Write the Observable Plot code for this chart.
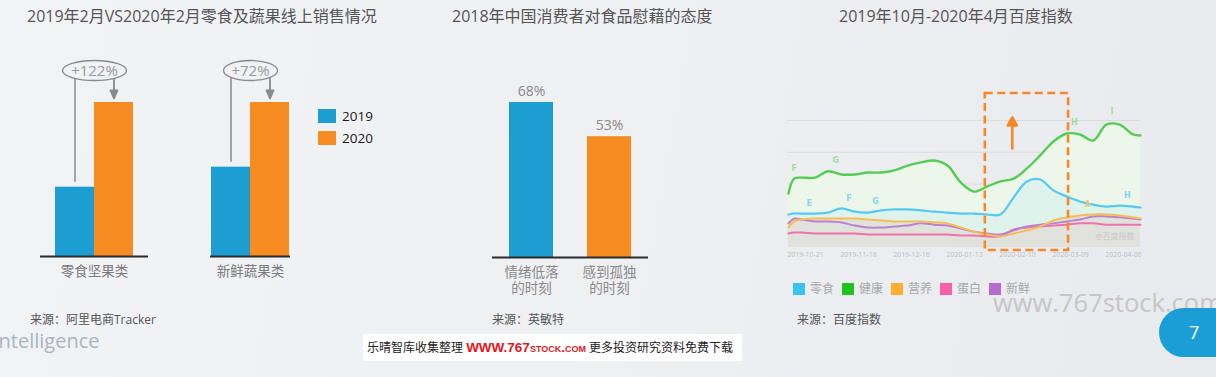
<!DOCTYPE html>
<html>
<head>
<meta charset="utf-8">
<script src="https://cdn.jsdelivr.net/npm/d3@7"></script>
<script src="https://cdn.jsdelivr.net/npm/@observablehq/plot@0.6"></script>
<style>
html, body { margin: 0; padding: 0; }
body {
  width: 1216px; height: 377px; overflow: hidden; position: relative;
  background: linear-gradient(100deg, #f2f3f5 0%, #eff0f2 50%, #e9eaee 100%);
  font-family: "Open Sans", "Noto Sans CJK SC", sans-serif;
}
.abs { position: absolute; white-space: nowrap; }
.title { font-size: 16px; color: #555; line-height: 22px; top: 5px; }
.src { font-size: 12px; color: #555; line-height: 16px; top: 312px; }
.layer { position: absolute; left: 0; top: 0; }
.layer svg { background: transparent !important; max-width: none !important; overflow: visible; }
.sw { display: inline-block; vertical-align: middle; }
</style>
</head>
<body>
<div class="abs title" style="left:27px;">2019年2月VS2020年2月零食及蔬果线上销售情况</div>
<div class="abs title" style="left:452px;">2018年中国消费者对食品慰藉的态度</div>
<div class="abs title" style="left:839px;">2019年10月-2020年4月百度指数</div>

<div class="layer" id="p1" style="width:310px;height:300px;"></div>
<div class="layer" id="p2" style="width:700px;height:377px;"></div>
<div class="layer" id="p3" style="width:1216px;height:377px;"></div>

<div class="abs" id="lg1" style="left:318px;top:107px;"></div>
<div class="abs" id="lg3" style="left:793px;top:275px;"></div>

<div class="abs src" style="left:30px;">来源：阿里电商Tracker</div>
<div class="abs src" style="left:492px;">来源：英敏特</div>
<div class="abs src" style="left:797px;">来源：百度指数</div>

<div class="abs" style="left:-7px;top:327px;font-size:20px;line-height:28px;color:#aab4c3;">Intelligence</div>
<div class="abs" style="left:993px;top:292px;font-size:25.5px;line-height:20px;color:#c6c6c6;">www.767stock.com</div>
<div class="abs" style="left:363px;top:334px;width:379px;height:27px;background:#fff;line-height:27px;font-size:12px;color:#222;padding-left:4px;box-sizing:border-box;">乐晴智库收集整理 <span style="font-family:'Liberation Sans',Arial,sans-serif;font-weight:bold;font-size:13.5px;color:#e3161f;font-variant:small-caps;">WWW.767stock.com</span> 更多投资研究资料免费下载</div>
<div class="abs" style="left:1159px;top:308px;width:80px;height:49px;border-radius:25px 0 0 25px;background:#1b9ed6;color:#fff;font-size:18px;line-height:49px;padding-left:30px;box-sizing:border-box;">7</div>

<script>
// ---------- Panel 1 data ----------
const foodCats = ["零食坚果类", "新鲜蔬果类"];
const years = ["2019", "2020"];
const sales2019 = [45, 58];      // index, 2020 = 100
const sales2020 = [100, 100];
const growthLabels = ["+122%", "+72%"];

// ---------- Panel 2 data ----------
const moodCats = ["情绪低落\n的时刻", "感到孤独\n的时刻"];
const moodShares = [68, 53];

// ---------- Panel 3 data ----------
const seriesNames = ["零食", "健康", "营养", "蛋白", "新鲜"];
const indexDates = ["2019-10-12","2019-10-15","2019-10-19","2019-10-26","2019-11-02","2019-11-09","2019-11-16",
  "2019-11-23","2019-11-30","2019-12-07","2019-12-14","2019-12-21","2019-12-28","2020-01-04","2020-01-11",
  "2020-01-18","2020-01-25","2020-02-01","2020-02-08","2020-02-15","2020-02-22","2020-02-29","2020-03-07",
  "2020-03-14","2020-03-21","2020-03-28","2020-04-04","2020-04-11","2020-04-15"];
const snackIdx = [1040,1070,1070,1070,1100,1230,1130,1100,1170,1200,1200,1170,1130,1100,1070,
  1070,1040,1040,1580,2080,2140,1800,1610,1450,1350,1290,1320,1290,1260];
const healthIdx = [1700,2170,2200,2200,2400,2300,2300,2360,2360,2430,2580,2680,2740,2580,2050,
  1760,1920,2080,2170,2490,2900,3340,3590,3560,3370,3870,3870,3560,3530];
const nutritionIdx = [630,820,880,910,910,910,910,880,850,820,820,820,790,760,630,
  500,410,350,440,540,660,850,950,1010,1040,1040,1010,950,910];
const proteinIdx = [440,470,470,440,440,440,440,410,410,410,410,410,410,410,380,
  380,350,350,570,630,660,690,720,760,760,720,720,720,720];
const freshIdx = [760,910,880,820,820,790,690,630,630,660,690,760,720,690,600,
  500,440,410,540,660,720,760,820,880,980,980,950,910,880];
const tickDates = ["2019-10-21","2019-11-18","2019-12-16","2020-01-13","2020-02-10","2020-03-09","2020-04-06"];
const outbreakPeriod = ["2020-01-24", "2020-03-08"];
const markerDates = ["2019-10-15","2019-11-06","2019-10-23","2019-11-13","2019-11-27","2020-03-11","2020-03-31","2020-04-08","2020-03-18"];
const markerValues = [2170,2430,1070,1230,1130,3620,3970,1320,1040];
const markerLetters = ["F","G","E","F","G","H","I","H","A"];
const markerSeries = ["健康","健康","零食","零食","零食","健康","健康","零食","营养"];

// ---------- styles ----------
const yearColors = ["#1d9ed3", "#f68b22"];
const seriesSwatch = ["#38c3f3", "#1fc21f", "#fdad2f", "#f95fa6", "#b56ccb"];
const seriesLine = ["#55c9f2", "#55cc55", "#f8bd55", "#ef72b0", "#bb82d2"];
const seriesMarker = ["#86d6f3", "#9ddf9d", "#f2c97a", "#f4a0c8", "#d0a8e0"];
const font = "'Open Sans','Noto Sans CJK SC',sans-serif";
const gray = "#8a8a8a";

// custom ellipse symbol (half-width from r, fixed half-height)
const ellipseSym = {draw(ctx, size) {
  const rx = Math.sqrt(size / Math.PI), ry = 10, k = 0.5523;
  ctx.moveTo(rx, 0);
  ctx.bezierCurveTo(rx, ry * k, rx * k, ry, 0, ry);
  ctx.bezierCurveTo(-rx * k, ry, -rx, ry * k, -rx, 0);
  ctx.bezierCurveTo(-rx, -ry * k, -rx * k, -ry, 0, -ry);
  ctx.bezierCurveTo(rx * k, -ry, rx, -ry * k, rx, 0);
  ctx.closePath();
}};
const headArrow = (hw, hl) => ({draw(ctx, l) {
  ctx.moveTo(0, 0); ctx.lineTo(0, -l + hl);
  ctx.moveTo(-hw, -l + hl); ctx.lineTo(0, -l); ctx.lineTo(hw, -l + hl); ctx.closePath();
}});

// ---------- Panel 1 ----------
const salesRows = foodCats.flatMap((c, i) => [
  {cat: c, year: years[0], v: sales2019[i]},
  {cat: c, year: years[1], v: sales2020[i]}
]);
const growthRows = foodCats.map((c, i) => ({cat: c, label: growthLabels[i], v19: sales2019[i], v20: sales2020[i]}));
const ellipseHalfWidth = [32, 27];
const baselineOverhang = [-15, -1];

const p1 = Plot.plot({
  width: 310, height: 300,
  marginLeft: 39, marginRight: 5, marginTop: 0, marginBottom: 0,
  style: {background: "transparent", fontFamily: font, overflow: "visible"},
  fx: {domain: foodCats, paddingInner: 0.5, paddingOuter: 0.1, axis: null, label: null},
  x: {domain: years, padding: 0, axis: null},
  y: {domain: [0, 100], range: [256, 102], axis: null},
  color: {domain: years, range: yearColors},
  marks: [
    Plot.barY(salesRows, {fx: "cat", x: "year", y: "v", fill: "year"}),
    ...growthRows.map((row, i) => Plot.ruleY([row], {fx: "cat", y: () => 0, stroke: "#2b2b2b", strokeWidth: 2,
      insetLeft: baselineOverhang[i], insetRight: baselineOverhang[i]})),
    Plot.ruleX(growthRows, {fx: "cat", x: () => years[0], y1: "v20", y2: "v19",
      stroke: gray, strokeWidth: 1.5, insetTop: -24, insetBottom: 5}),
    Plot.vector(growthRows, {fx: "cat", x: () => years[1], y: "v20", dy: -4, length: 20, rotate: 180,
      anchor: "end", shape: headArrow(3.5, 8), stroke: gray, fill: gray, strokeWidth: 1.8}),
    ...growthRows.map((row, i) => Plot.dot([row], {fx: "cat", y: "v20", dy: -32, r: ellipseHalfWidth[i],
      symbol: ellipseSym, stroke: gray, fill: "#f1f2f4", strokeWidth: 1.3})),
    Plot.text(growthRows, {fx: "cat", y: "v20", dy: -31, text: "label", fontSize: 15, fill: "#9a9a9a", fontFamily: font}),
    Plot.text(foodCats, {fx: d => d, y: () => 0, text: d => d, dy: 15, fontSize: 13.5, fill: "#7a7a7a", fontFamily: font})
  ]
});
document.getElementById("p1").appendChild(p1);

// legend panel 1
document.getElementById("lg1").innerHTML = years.map((y, i) =>
  `<div style="height:22px;line-height:16px;font-size:13.5px;color:#1a1a1a;">` +
  `<span class="sw" style="width:18px;height:14px;background:${yearColors[i]};margin-right:6px;"></span>` +
  `<span style="vertical-align:middle;">${y}</span></div>`).join("");

// ---------- Panel 2 ----------
const moodRows = moodCats.map((c, i) => ({cat: c, v: moodShares[i]}));
const p2 = Plot.plot({
  width: 700, height: 377,
  marginLeft: 492, marginRight: 52, marginTop: 0, marginBottom: 0,
  style: {background: "transparent", fontFamily: font},
  x: {domain: moodCats, paddingInner: 0.44, paddingOuter: 0.22, axis: null},
  y: {domain: [0, 68], range: [257, 102], axis: null},
  color: {domain: moodCats, range: yearColors},
  marks: [
    Plot.barY(moodRows, {x: "cat", y: "v", fill: "cat"}),
    Plot.ruleY([0], {stroke: "#2b2b2b", strokeWidth: 2}),
    Plot.text(moodRows, {x: "cat", y: "v", text: d => d.v + "%", dy: -11, fontSize: 14, fill: "#8a8a8a", fontFamily: font}),
    Plot.text(moodRows, {x: "cat", y: () => 0, text: "cat", dy: 22, lineHeight: 1.18, fontSize: 13.5, fill: "#8a8a8a", fontFamily: font})
  ]
});
document.getElementById("p2").appendChild(p2);

// ---------- Panel 3 ----------
const parse = d3.utcParse("%Y-%m-%d");
const seriesValues = [snackIdx, healthIdx, nutritionIdx, proteinIdx, freshIdx];
const rows = indexDates.map((d, i) => {
  const r = {date: parse(d)};
  seriesNames.forEach((s, k) => r[s] = seriesValues[k][i]);
  return r;
});
const markers = markerDates.map((d, i) => ({date: parse(d), v: markerValues[i], label: markerLetters[i], series: markerSeries[i]}));
const periodRows = [{start: parse(outbreakPeriod[0]), end: parse(outbreakPeriod[1])}];
const curve = "catmull-rom";
const S = name => d => d[name];
const fmt = d3.utcFormat("%Y-%m-%d");

const p3 = Plot.plot({
  width: 1216, height: 377,
  marginLeft: 787, marginRight: 76, marginTop: 93, marginBottom: 127,
  style: {background: "transparent", fontFamily: font, fontSize: "7px", color: "#bdbdbd"},
  x: {type: "utc", domain: [new Date("2019-10-11T12:00:00Z"), new Date("2020-04-15T00:00:00Z")],
      ticks: tickDates.map(parse), tickFormat: fmt, tickSize: 0, tickPadding: 1.5, label: null},
  y: {domain: [0, 4000], range: [247, 120], axis: null},
  marks: [
    Plot.ruleY([1000, 2000, 3000, 4000], {stroke: "#dcdcdc", strokeWidth: 1}),
    Plot.areaY(rows, {x: "date", y: S("健康"), fill: "#ecf7ea", curve}),
    Plot.areaY(rows, {x: "date", y: S("零食"), fill: "#dff3ed", curve}),
    Plot.areaY(rows, {x: "date", y: S("营养"), fill: "#e2e2dc", curve}),
    Plot.areaY(rows, {x: "date", y: S("新鲜"), fill: "#e2e2dc", curve}),
    Plot.areaY(rows, {x: "date", y: S("蛋白"), fill: "#e2e2dc", curve}),
    Plot.lineY(rows, {x: "date", y: S("蛋白"), stroke: seriesLine[3], strokeWidth: 2, curve}),
    Plot.lineY(rows, {x: "date", y: S("新鲜"), stroke: seriesLine[4], strokeWidth: 2, curve}),
    Plot.lineY(rows, {x: "date", y: S("营养"), stroke: seriesLine[2], strokeWidth: 2, curve}),
    Plot.lineY(rows, {x: "date", y: S("零食"), stroke: seriesLine[0], strokeWidth: 2.2, curve}),
    Plot.lineY(rows, {x: "date", y: S("健康"), stroke: seriesLine[1], strokeWidth: 2.4, curve}),
    Plot.text(markers, {x: "date", y: "v", text: "label", dy: -10, fontSize: 8, fontWeight: "bold",
      fill: d => seriesMarker[seriesNames.indexOf(d.series)], fontFamily: "'DejaVu Sans',sans-serif"}),
    Plot.text(["@百度指数"], {frameAnchor: "bottom-right", text: d => d, dx: -6, dy: -12, fontSize: 8, fill: "#c9c9c9", fontFamily: font}),
    Plot.rect(periodRows, {x1: "start", x2: "end", fill: "none", stroke: "#f5892a", strokeWidth: 2.6, strokeDasharray: "8,4.5"}),
    Plot.vector(periodRows, {x: "start", frameAnchor: "top", dx: 27, dy: 55, length: 31, rotate: 0, anchor: "start",
      shape: headArrow(4.5, 8), stroke: "#f5892a", fill: "#f5892a", strokeWidth: 2.6})
  ]
});
document.getElementById("p3").appendChild(p3);

// legend panel 3
document.getElementById("lg3").innerHTML = seriesNames.map((s, i) =>
  `<span style="display:inline-block;margin-right:8px;font-size:12px;line-height:14px;color:#a9a9a9;">` +
  `<span class="sw" style="width:12px;height:12px;background:${seriesSwatch[i]};margin-right:5px;"></span>` +
  `<span style="vertical-align:middle;">${s}</span></span>`).join("");
</script>
</body>
</html>
